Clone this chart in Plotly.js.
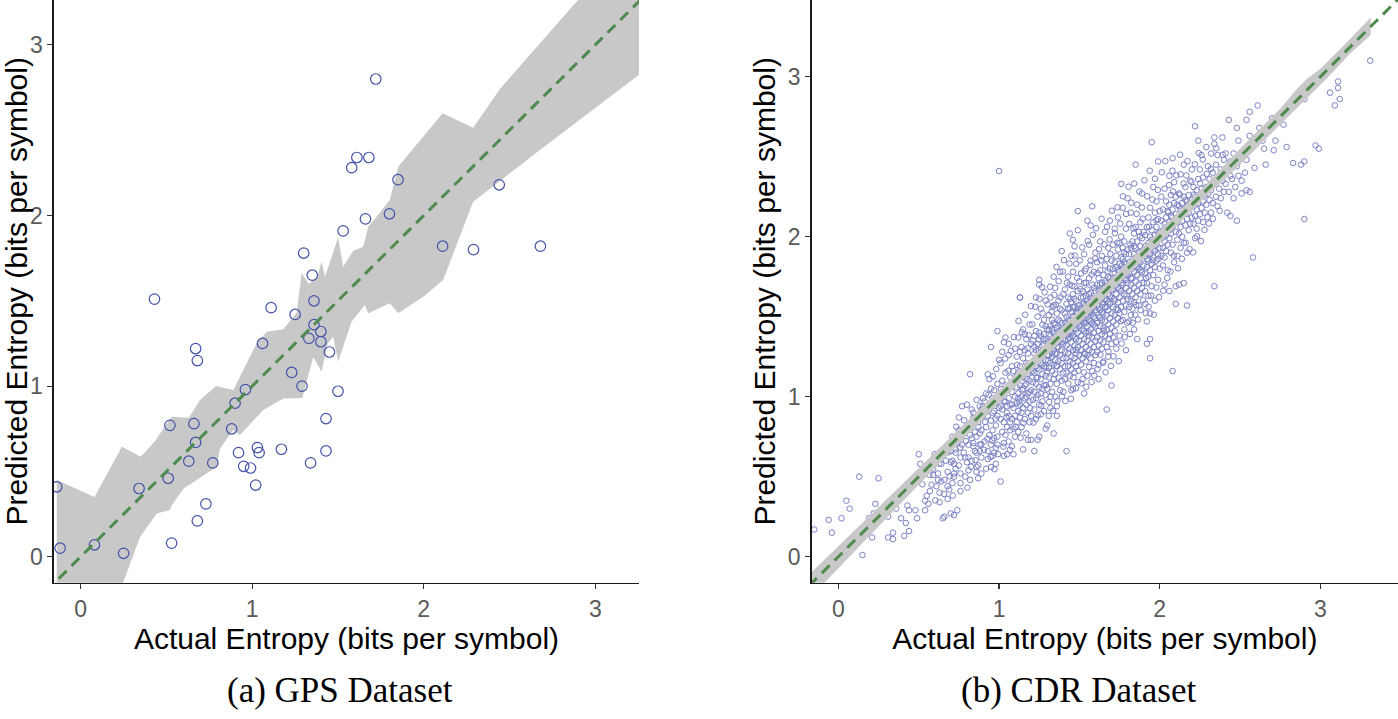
<!DOCTYPE html>
<html>
<head>
<meta charset="utf-8">
<script src="https://cdn.plot.ly/plotly-3.0.1.min.js"></script>
<style>
  html, body { margin: 0; padding: 0; background: #ffffff; }
  #chart { width: 1398px; height: 719px; }
</style>
</head>
<body>
<div id="chart"></div>
<script>
// ---------- Data ----------
const tickValues = [0, 1, 2, 3];
const tickLabels = ['0', '1', '2', '3'];
const xTitle = 'Actual Entropy (bits per symbol)';
const yTitle = 'Predicted Entropy (bits per symbol)';
const captions = ['(a) GPS Dataset', '(b) CDR Dataset'];
const identityLine = [-0.5, 3.8];

// GPS dataset: [actual, predicted]
const gpsPoints = [
  [0.43,1.51],[1.11,1.46],[1.25,1.42],[1.36,1.50],[1.36,1.36],[1.40,1.32],[1.33,1.28],[1.40,1.26],
  [1.45,1.20],[1.06,1.25],[0.67,1.22],[0.68,1.15],[1.23,1.08],[1.29,1.00],[1.50,0.97],[0.96,0.98],
  [0.90,0.90],[0.88,0.75],[0.52,0.77],[0.66,0.78],[0.67,0.67],[1.43,0.81],[0.92,0.61],[1.03,0.64],
  [1.04,0.61],[1.17,0.63],[1.43,0.62],[0.63,0.56],[0.77,0.55],[0.95,0.53],[0.99,0.52],[1.34,0.55],
  [0.51,0.46],[1.02,0.42],[-0.14,0.41],[0.34,0.40],[0.73,0.31],[0.68,0.21],[0.53,0.08],[-0.12,0.05],
  [0.08,0.07],[0.25,0.02],[1.72,2.80],[1.61,2.34],[1.68,2.34],[1.58,2.28],[1.85,2.21],[2.44,2.18],
  [1.80,2.01],[1.66,1.98],[1.53,1.91],[1.30,1.78],[2.11,1.82],[2.29,1.80],[2.68,1.82],[1.35,1.65]
];

// GPS uncertainty band: upper and lower edges
const gpsBandUpper = [
  [-0.14,0.45],[0.08,0.35],[0.24,0.645],[0.35,0.586],[0.43,0.674],[0.53,0.821],[0.63,0.815],[0.695,0.918],
  [0.79,1.00],[0.89,0.977],[1.026,1.251],[1.084,1.319],[1.181,1.333],[1.259,1.43],[1.288,1.661],[1.33,1.60],
  [1.38,1.64],[1.404,1.729],[1.424,1.641],[1.501,1.872],[1.530,1.700],[1.589,1.794],[1.647,1.817],
  [1.676,1.934],[1.725,1.993],[1.802,2.091],[1.851,2.286],[2.110,2.599],[2.288,2.515],[2.443,2.740],
  [2.890,3.253],[3.30,3.72]
];
const gpsBandLower = [
  [-0.14,-0.9],[0.20,-0.30],[0.249,-0.147],[0.346,0.115],[0.443,0.254],[0.52,0.274],[0.53,0.30],
  [0.60,0.40],[0.676,0.450],[0.793,0.528],[0.812,0.635],[0.889,0.743],[0.928,0.713],[1.064,0.860],
  [1.181,0.928],[1.292,0.93],[1.356,1.17],[1.404,1.084],[1.44,1.25],[1.472,1.29],[1.501,1.143],
  [1.579,1.377],[1.657,1.475],[1.676,1.427],[1.802,1.485],[1.851,1.427],[1.997,1.524],[2.113,1.622],
  [2.288,2.081],[2.677,2.384],[3.30,2.86]
];

// CDR uncertainty band
const cdrBandX     = [-0.17, 0.20, 0.50, 1.00, 1.50, 2.00, 2.30, 2.50, 2.60, 2.75, 2.85, 2.92, 3.00, 3.08, 3.18, 3.313];
const cdrBandUpper = [-0.10, 0.26, 0.55, 1.04, 1.54, 2.04, 2.34, 2.55, 2.65, 2.80, 2.92, 2.99, 3.05, 3.13, 3.23, 3.37];
const cdrBandLower = [-0.25, 0.14, 0.45, 0.96, 1.46, 1.96, 2.26, 2.45, 2.55, 2.70, 2.80, 2.87, 2.95, 3.03, 3.14, 3.26];

// CDR dataset: [actual, predicted]
const cdrPoints = [
  [-0.15,0.17],[-0.06,0.23],[-0.04,0.15],[0.02,0.24],[0.05,0.35],[0.07,0.30],[0.06,0.09],[0.10,0.09],[0.13,0.50],[0.15,0.01],
  [0.17,0.14],[0.19,0.24],[0.21,0.12],[0.23,0.33],[0.22,0.27],[0.25,0.49],[0.30,0.30],[0.31,0.25],[0.31,0.12],[0.34,0.11],
  [0.34,0.15],[0.36,0.30],[0.38,0.39],[0.39,0.24],[0.41,0.13],[0.42,0.21],[0.43,0.32],[0.44,0.29],[0.44,0.16],[0.48,0.29],
  [0.49,0.24],[0.50,0.64],[0.51,0.58],[0.54,0.29],[0.54,0.35],[0.55,0.38],[0.57,0.41],[0.59,0.51],[0.59,0.55],[0.60,0.64],
  [0.58,0.45],[0.56,0.33],
  [0.61,0.44],[0.62,0.48],[0.63,0.34],[0.63,0.40],[0.64,0.58],[0.65,0.63],[0.65,0.24],[0.66,0.48],[0.68,0.44],[0.68,0.53],
  [0.70,0.59],[0.70,0.66],[0.66,0.25],[0.68,0.36],[0.62,0.52],[0.69,0.42],[0.64,0.47],[0.67,0.60],
  [0.71,0.75],[0.70,0.27],[0.72,0.26],[0.74,0.29],[0.71,0.46],[0.72,0.50],[0.72,0.52],[0.71,0.60],[0.73,0.65],[0.73,0.67],
  [0.75,0.87],[0.75,0.79],[0.75,0.57],[0.76,0.52],[0.76,0.46],[0.76,0.41],[0.77,0.94],[0.80,0.95],[0.78,0.65],[0.79,0.62],
  [0.80,0.59],[0.73,0.55],[0.77,0.70],[0.79,0.50],[0.76,0.62],[0.72,0.58],[0.74,0.71],[0.78,0.78],
  [0.81,0.54],[0.82,0.48],[0.82,1.14],[0.82,0.83],[0.82,0.81],[0.83,0.74],[0.84,0.71],[0.84,0.69],[0.86,0.65],[0.86,0.53],
  [0.87,0.57],[0.87,0.49],[0.88,0.94],[0.81,0.62],[0.83,0.60],[0.85,0.78],[0.85,0.66],[0.86,0.75],[0.87,0.84],[0.88,0.70],
  [0.89,0.62],[0.89,0.79],[0.90,0.88],[0.86,0.56],[0.88,0.66],[0.89,0.52],[0.81,0.70],[0.82,0.76],[0.84,0.90],[0.86,0.98],
  [0.88,0.77],[0.83,0.92],[0.90,0.99],[0.90,0.94],[0.89,0.92],
  [0.99,1.41],[0.95,1.31],[0.93,1.14],[0.94,1.11],[0.98,0.58],[0.92,0.55],[0.95,0.56],[0.91,0.72],[0.92,0.81],[0.93,0.88],
  [0.93,0.66],[0.94,0.95],[0.94,0.76],[0.95,0.70],[0.95,0.85],[0.96,0.99],[0.96,0.63],[0.96,0.79],[0.97,0.91],[0.97,0.74],
  [0.97,1.04],[0.98,0.82],[0.98,0.68],[0.98,0.96],[0.99,1.08],[0.99,0.88],[0.99,0.75],[1.00,0.93],[1.00,1.23],[0.91,0.97],
  [0.92,1.02],[0.93,0.61],[0.95,1.05],[0.96,0.90],[0.97,0.65],[0.99,0.70],[1.00,2.41],
  [1.04,1.37],[1.03,1.34],[1.01,1.21],[1.01,0.47],[1.03,0.63],[1.05,0.64],[1.09,0.64],[1.01,0.86],[1.01,0.99],[1.02,0.78],
  [1.02,1.10],[1.02,0.92],[1.03,0.71],[1.03,1.02],[1.03,0.84],[1.04,0.97],[1.04,1.15],[1.04,0.76],[1.05,0.90],[1.05,1.06],
  [1.05,0.81],[1.06,0.99],[1.06,1.26],[1.06,0.72],[1.06,0.88],[1.07,1.12],[1.07,0.95],[1.07,0.79],[1.08,1.03],[1.08,0.86],
  [1.08,1.19],[1.08,0.69],[1.09,0.93],[1.09,1.08],[1.09,0.80],[1.10,1.00],[1.10,1.30],[1.10,0.88],[1.02,1.28],[1.04,1.07],
  [1.05,0.94],[1.07,0.84],[1.09,1.16],[1.10,0.75],[1.06,1.33],[1.01,0.94],[1.03,0.97],
  [1.15,0.67],[1.13,1.62],[1.18,0.73],[1.20,0.73],[1.11,0.96],[1.11,1.13],[1.11,0.84],[1.11,1.25],[1.12,1.02],[1.12,0.91],
  [1.12,1.37],[1.12,0.78],[1.13,1.07],[1.13,0.95],[1.13,1.19],[1.13,0.87],[1.14,1.31],[1.14,1.00],[1.14,1.12],[1.14,0.81],
  [1.15,1.24],[1.15,0.93],[1.15,1.05],[1.15,1.42],[1.16,0.99],[1.16,1.16],[1.16,0.86],[1.16,1.29],[1.17,1.08],[1.17,0.95],
  [1.17,1.21],[1.17,0.77],[1.17,1.36],[1.18,1.02],[1.18,1.14],[1.18,0.90],[1.18,1.27],[1.19,1.10],[1.19,0.97],[1.19,1.45],
  [1.19,1.19],[1.20,1.04],[1.20,0.88],[1.20,1.33],[1.11,1.06],[1.12,1.15],[1.13,1.28],[1.14,0.90],[1.15,1.12],[1.16,1.07],
  [1.17,1.00],[1.18,1.20],[1.19,0.84],[1.20,1.15],[1.16,1.39],[1.12,0.99],[1.19,1.03],[1.13,1.62],
  [1.22,0.66],[1.24,0.73],[1.25,0.75],[1.26,0.89],[1.23,1.62],[1.25,1.73],[1.25,1.70],[1.21,1.09],[1.21,1.22],[1.21,0.98],
  [1.21,1.35],[1.22,1.15],[1.22,1.03],[1.22,1.27],[1.22,0.92],[1.23,1.19],[1.23,1.08],[1.23,1.41],[1.23,0.99],[1.24,1.24],
  [1.24,1.12],[1.24,1.33],[1.24,1.01],[1.24,1.50],[1.25,1.17],[1.25,1.06],[1.25,1.29],[1.25,0.95],[1.26,1.21],[1.26,1.11],
  [1.26,1.38],[1.26,1.02],[1.26,1.55],[1.27,1.25],[1.27,1.14],[1.27,1.32],[1.27,0.97],[1.27,1.45],[1.28,1.19],[1.28,1.07],
  [1.28,1.28],[1.28,1.39],[1.28,0.91],[1.29,1.23],[1.29,1.13],[1.29,1.35],[1.29,1.01],[1.29,1.60],[1.30,1.26],[1.30,1.16],
  [1.30,1.42],[1.30,1.05],[1.21,1.16],[1.22,1.38],[1.23,1.29],[1.24,1.18],[1.25,1.40],[1.26,1.28],[1.27,1.20],[1.28,1.48],
  [1.29,1.18],[1.30,1.31],[1.23,0.86],[1.27,1.05],[1.29,1.44],[1.22,1.21],[1.25,1.24],[1.28,1.33],
  [1.31,0.88],[1.30,0.82],[1.29,0.80],[1.34,0.77],[1.36,0.94],[1.36,0.88],[1.34,1.75],[1.38,1.78],[1.39,1.91],[1.32,0.93],
  [1.32,1.00],[1.31,1.12],[1.31,1.26],[1.31,1.39],[1.31,1.51],[1.31,1.18],[1.32,1.30],[1.32,1.21],[1.32,1.44],[1.32,1.08],
  [1.32,1.62],[1.33,1.25],[1.33,1.35],[1.33,1.16],[1.33,1.48],[1.33,1.03],[1.34,1.29],[1.34,1.20],[1.34,1.40],[1.34,1.11],
  [1.34,1.57],[1.35,1.33],[1.35,1.23],[1.35,1.45],[1.35,1.14],[1.35,1.68],[1.35,1.00],[1.36,1.27],[1.36,1.37],[1.36,1.19],
  [1.36,1.52],[1.36,1.08],[1.37,1.31],[1.37,1.41],[1.37,1.22],[1.37,1.60],[1.37,1.12],[1.38,1.35],[1.38,1.26],[1.38,1.47],
  [1.38,1.17],[1.38,1.04],[1.39,1.29],[1.39,1.39],[1.39,1.21],[1.39,1.54],[1.39,1.10],[1.40,1.33],[1.40,1.43],[1.40,1.24],
  [1.40,1.64],[1.40,1.15],[1.31,1.34],[1.32,1.38],[1.33,1.42],[1.34,1.46],[1.35,1.38],[1.36,1.43],[1.37,1.48],[1.38,1.55],
  [1.39,1.46],[1.33,1.27],[1.35,1.27],[1.37,1.35],[1.39,1.34],[1.31,1.42],[1.36,1.31],
  [1.40,1.03],[1.42,0.66],[1.46,1.05],[1.44,2.02],[1.46,1.98],[1.47,1.94],[1.45,1.88],[1.49,2.16],[1.49,2.04],[1.41,1.28],
  [1.41,1.40],[1.41,1.19],[1.41,1.52],[1.41,1.11],[1.41,1.67],[1.42,1.32],[1.42,1.44],[1.42,1.24],[1.42,1.58],[1.42,1.15],
  [1.43,1.36],[1.43,1.48],[1.43,1.27],[1.43,1.62],[1.43,1.19],[1.43,1.75],[1.44,1.30],[1.44,1.41],[1.44,1.22],[1.44,1.55],
  [1.44,1.13],[1.44,1.70],[1.45,1.34],[1.45,1.46],[1.45,1.25],[1.45,1.59],[1.45,1.17],[1.45,1.04],[1.46,1.38],[1.46,1.50],
  [1.46,1.29],[1.46,1.64],[1.46,1.21],[1.46,1.78],[1.47,1.32],[1.47,1.43],[1.47,1.24],[1.47,1.56],[1.47,1.15],[1.47,1.69],
  [1.48,1.36],[1.48,1.47],[1.48,1.27],[1.48,1.60],[1.48,1.19],[1.48,1.83],[1.49,1.40],[1.49,1.52],[1.49,1.31],[1.49,1.66],
  [1.49,1.22],[1.49,1.09],[1.50,1.44],[1.50,1.35],[1.50,1.57],[1.50,1.26],[1.50,1.72],[1.41,1.35],[1.42,1.38],[1.43,1.42],
  [1.44,1.47],[1.45,1.40],[1.46,1.44],[1.47,1.50],[1.48,1.53],[1.49,1.46],[1.50,1.50],[1.42,1.50],[1.44,1.37],[1.46,1.56],
  [1.48,1.42],[1.43,1.55],[1.47,1.37],
  [1.53,1.02],[1.58,2.19],[1.55,2.10],[1.57,2.07],[1.51,1.38],[1.51,1.49],[1.51,1.29],[1.51,1.62],[1.51,1.20],[1.51,1.77],
  [1.52,1.42],[1.52,1.53],[1.52,1.33],[1.52,1.66],[1.52,1.24],[1.52,1.11],[1.53,1.46],[1.53,1.36],[1.53,1.58],[1.53,1.27],
  [1.53,1.71],[1.53,1.89],[1.54,1.40],[1.54,1.51],[1.54,1.31],[1.54,1.63],[1.54,1.22],[1.54,1.80],[1.55,1.44],[1.55,1.55],
  [1.55,1.35],[1.55,1.67],[1.55,1.26],[1.55,1.13],[1.56,1.48],[1.56,1.38],[1.56,1.59],[1.56,1.29],[1.56,1.74],[1.56,1.95],
  [1.57,1.42],[1.57,1.53],[1.57,1.33],[1.57,1.65],[1.57,1.24],[1.57,1.85],[1.58,1.46],[1.58,1.57],[1.58,1.37],[1.58,1.70],
  [1.58,1.28],[1.58,1.16],[1.59,1.50],[1.59,1.40],[1.59,1.61],[1.59,1.31],[1.59,1.78],[1.59,1.21],[1.60,1.54],[1.60,1.44],
  [1.60,1.66],[1.60,1.35],[1.60,1.90],[1.60,1.26],[1.51,1.45],[1.52,1.58],[1.53,1.51],[1.54,1.57],[1.55,1.50],[1.56,1.53],
  [1.57,1.59],[1.58,1.52],[1.59,1.56],[1.60,1.60],[1.52,1.47],[1.54,1.46],[1.56,1.64],[1.58,1.62],[1.53,1.41],[1.57,1.47],
  [1.59,1.45],[1.55,1.60],[1.51,1.55],[1.60,1.49],
  [1.62,1.11],[1.67,0.92],[1.61,1.46],[1.61,1.57],[1.61,1.37],[1.61,1.70],[1.61,1.28],[1.61,1.84],[1.62,1.50],[1.62,1.61],
  [1.62,1.41],[1.62,1.74],[1.62,1.32],[1.62,1.20],[1.63,1.54],[1.63,1.44],[1.63,1.65],[1.63,1.35],[1.63,1.79],[1.63,1.97],
  [1.64,1.48],[1.64,1.59],[1.64,1.39],[1.64,1.71],[1.64,1.30],[1.64,1.88],[1.65,1.52],[1.65,1.63],[1.65,1.43],[1.65,1.76],
  [1.65,1.34],[1.65,1.22],[1.66,1.56],[1.66,1.47],[1.66,1.67],[1.66,1.38],[1.66,1.82],[1.66,2.03],[1.67,1.60],[1.67,1.51],
  [1.67,1.71],[1.67,1.42],[1.67,1.86],[1.67,1.31],[1.68,1.64],[1.68,1.54],[1.68,1.75],[1.68,1.45],[1.68,1.93],[1.68,1.25],
  [1.69,1.58],[1.69,1.68],[1.69,1.49],[1.69,1.80],[1.69,1.39],[1.69,2.10],[1.70,1.62],[1.70,1.72],[1.70,1.52],[1.70,1.85],
  [1.70,1.43],[1.70,1.33],[1.61,1.62],[1.62,1.66],[1.63,1.60],[1.64,1.64],[1.65,1.68],[1.66,1.61],[1.67,1.66],[1.68,1.70],
  [1.69,1.63],[1.70,1.67],[1.62,1.55],[1.64,1.53],[1.66,1.72],[1.68,1.59],[1.63,1.70],[1.67,1.56],[1.65,1.58],[1.69,1.74],
  [1.70,1.07],[1.76,2.33],[1.79,1.29],[1.71,1.56],[1.71,1.67],[1.71,1.47],[1.71,1.80],[1.71,1.37],[1.71,1.95],[1.72,1.60],
  [1.72,1.71],[1.72,1.51],[1.72,1.84],[1.72,1.41],[1.72,2.05],[1.73,1.64],[1.73,1.75],[1.73,1.55],[1.73,1.88],[1.73,1.45],
  [1.73,1.30],[1.74,1.68],[1.74,1.79],[1.74,1.59],[1.74,1.92],[1.74,1.49],[1.74,2.12],[1.75,1.72],[1.75,1.83],[1.75,1.62],
  [1.75,1.96],[1.75,1.52],[1.75,1.38],[1.76,1.76],[1.76,1.66],[1.76,1.87],[1.76,1.56],[1.76,2.00],[1.77,1.70],[1.77,1.80],
  [1.77,1.60],[1.77,1.93],[1.77,1.48],[1.77,2.18],[1.78,1.74],[1.78,1.84],[1.78,1.64],[1.78,1.97],[1.78,1.53],[1.78,1.42],
  [1.79,1.77],[1.79,1.68],[1.79,1.89],[1.79,1.57],[1.79,2.05],[1.80,1.81],[1.80,1.71],[1.80,1.92],[1.80,1.61],[1.80,2.24],
  [1.71,1.74],[1.72,1.77],[1.73,1.70],[1.74,1.74],[1.75,1.78],[1.76,1.71],[1.77,1.75],[1.78,1.79],[1.79,1.83],[1.80,1.76],
  [1.73,1.81],[1.75,1.67],[1.77,1.86],[1.79,1.73],
  [1.84,1.42],[1.86,1.36],[1.85,2.45],[1.81,1.66],[1.81,1.77],[1.81,1.56],[1.81,1.89],[1.81,1.47],[1.81,2.08],[1.82,1.70],
  [1.82,1.81],[1.82,1.60],[1.82,1.93],[1.82,1.51],[1.82,2.15],[1.83,1.74],[1.83,1.85],[1.83,1.64],[1.83,1.97],[1.83,1.55],
  [1.84,1.78],[1.84,1.89],[1.84,1.68],[1.84,2.02],[1.84,1.59],[1.85,1.82],[1.85,1.93],[1.85,1.72],[1.85,2.06],[1.85,1.62],
  [1.86,1.86],[1.86,1.76],[1.86,1.97],[1.86,1.66],[1.86,2.20],[1.87,1.80],[1.87,1.90],[1.87,1.70],[1.87,2.03],[1.87,1.57],
  [1.88,1.84],[1.88,1.94],[1.88,1.74],[1.88,2.09],[1.88,1.64],[1.89,1.88],[1.89,1.78],[1.89,1.99],[1.89,1.68],[1.89,2.27],
  [1.90,1.92],[1.90,1.82],[1.90,2.03],[1.90,1.71],[1.81,1.84],[1.83,1.80],[1.85,1.87],[1.87,1.85],[1.89,1.91],[1.82,1.74],
  [1.84,1.94],[1.86,1.81],[1.88,1.79],
  [1.92,1.33],[1.94,1.36],[1.92,1.47],[1.94,1.52],[1.94,1.24],[1.95,2.59],[1.99,2.47],[1.91,1.77],[1.91,1.88],[1.91,1.66],
  [1.91,2.01],[1.91,1.58],[1.92,1.81],[1.92,1.92],[1.92,1.71],[1.92,2.06],[1.93,1.85],[1.93,1.96],[1.93,1.75],[1.93,2.12],
  [1.93,1.63],[1.94,1.89],[1.94,2.00],[1.94,1.79],[1.94,2.18],[1.95,1.93],[1.95,1.83],[1.95,2.04],[1.95,1.69],[1.96,1.97],
  [1.96,1.87],[1.96,2.09],[1.96,1.76],[1.96,2.31],[1.97,1.91],[1.97,2.01],[1.97,1.81],[1.97,2.15],[1.97,1.60],[1.98,1.95],
  [1.98,2.06],[1.98,1.85],[1.98,2.22],[1.99,1.99],[1.99,1.89],[1.99,2.11],[1.99,1.73],[2.00,2.03],[2.00,1.93],[2.00,2.16],
  [2.00,1.80],[1.91,1.94],[1.93,1.90],[1.95,1.98],[1.97,1.96],[1.99,2.02],[1.92,1.86],[1.96,1.92],
  [2.03,1.70],[2.06,1.66],[2.10,1.69],[2.08,1.16],[2.08,2.49],[2.10,1.58],[2.01,1.88],[2.01,1.99],[2.01,2.10],[2.01,2.25],
  [2.02,1.93],[2.02,2.04],[2.02,1.82],[2.02,2.17],[2.03,1.97],[2.03,2.08],[2.03,1.87],[2.03,2.30],[2.04,2.01],[2.04,2.12],
  [2.04,1.91],[2.04,2.22],[2.05,2.05],[2.05,1.95],[2.05,2.16],[2.05,1.79],[2.06,2.09],[2.06,1.99],[2.06,2.20],[2.06,2.38],
  [2.07,2.13],[2.07,2.02],[2.07,1.90],[2.07,2.26],[2.08,2.06],[2.08,2.17],[2.08,1.95],[2.09,2.10],[2.09,2.21],[2.09,1.84],
  [2.09,2.34],[2.10,2.14],[2.10,2.03],[2.10,2.25],[2.02,2.00],[2.04,2.06],[2.06,2.04],[2.08,2.12],
  [2.12,1.70],[2.15,1.71],[2.17,1.57],[2.11,1.98],[2.11,2.09],[2.11,2.20],[2.11,1.88],[2.12,2.13],[2.12,2.02],[2.12,2.27],
  [2.13,2.06],[2.13,2.17],[2.13,1.93],[2.13,2.39],[2.14,2.10],[2.14,2.21],[2.14,2.00],[2.15,2.14],[2.15,2.25],[2.15,1.96],
  [2.15,2.45],[2.16,2.18],[2.16,2.07],[2.16,2.31],[2.17,2.22],[2.17,2.11],[2.17,1.90],[2.18,2.15],[2.18,2.26],[2.18,2.04],
  [2.19,2.19],[2.19,2.35],[2.19,2.08],[2.20,2.23],[2.20,2.12],[2.20,2.42],[2.12,2.19],[2.14,2.15],[2.16,2.23],[2.18,2.20],
  [2.22,2.69],[2.24,2.60],[2.26,2.51],[2.29,2.56],[2.21,2.08],[2.21,2.19],[2.21,2.31],[2.22,2.13],[2.22,2.25],[2.22,1.99],
  [2.23,2.17],[2.23,2.29],[2.23,2.05],[2.24,2.21],[2.24,2.36],[2.24,2.10],[2.25,2.25],[2.25,2.14],[2.25,2.42],[2.26,2.18],
  [2.26,2.30],[2.27,2.22],[2.27,2.09],[2.27,2.37],[2.28,2.26],[2.28,2.15],[2.29,2.31],[2.29,2.20],[2.30,2.27],[2.30,2.44],
  [2.32,2.52],[2.36,2.51],[2.34,2.58],[2.34,2.62],[2.39,2.62],[2.34,1.69],[2.41,2.52],[2.31,2.23],[2.31,2.36],[2.32,2.15],
  [2.32,2.29],[2.33,2.40],[2.33,2.21],[2.34,2.33],[2.35,2.25],[2.35,2.45],[2.36,2.37],[2.36,2.19],[2.37,2.30],[2.38,2.42],
  [2.38,2.24],[2.39,2.35],[2.40,2.48],[2.40,2.28],
  [2.43,2.73],[2.48,2.68],[2.49,2.60],[2.44,2.38],[2.46,2.24],[2.48,2.10],[2.42,2.15],[2.44,2.13],[2.41,2.33],[2.42,2.41],
  [2.43,2.28],[2.44,2.47],[2.45,2.36],[2.46,2.52],[2.47,2.31],[2.48,2.44],[2.49,2.38],[2.50,2.50],
  [2.51,2.27],[2.54,2.29],[2.56,2.28],[2.54,2.48],[2.51,2.35],[2.53,2.40],[2.59,2.43],[2.56,2.63],[2.56,2.78],[2.54,2.73],
  [2.61,2.82],[2.62,2.68],[2.64,2.60],[2.65,2.55],[2.66,2.45],[2.70,2.74],[2.74,2.75],[2.77,2.70],[2.72,2.60],[2.71,2.54],
  [2.79,2.56],[2.83,2.46],[2.88,2.45],[2.90,2.47],[2.90,2.11],[2.58,1.87],[2.97,2.57],[2.99,2.55],[2.90,2.86],[2.98,3.00],
  [3.11,2.97],[3.11,2.93],[3.06,2.90],[3.12,2.86],[3.09,2.82],[3.31,3.10],
  [0.853,0.603],[0.872,0.811],[0.913,0.842],[0.928,0.737],[0.947,0.623],[0.962,1.127],[0.978,0.863],[0.994,0.641],[0.907,0.668],[0.936,1.012],
  [0.958,0.726],[0.983,1.172],[0.921,0.904],[0.889,0.703],[0.972,0.547],
  [1.013,1.047],[1.027,0.688],[1.038,1.238],[1.046,0.872],[1.058,1.162],[1.067,0.667],[1.074,1.286],[1.083,0.952],[1.092,1.372],[1.104,0.812],
  [1.113,1.198],[1.121,1.473],[1.134,0.743],[1.142,1.402],[1.151,0.836],[1.163,1.512],[1.172,1.113],[1.184,1.384],[1.193,0.928],[1.198,1.566],
  [1.108,1.098],[1.146,1.041],[1.177,1.302],[1.057,1.042],[1.126,0.968],
  [1.207,1.452],[1.214,0.838],[1.226,1.562],[1.233,1.117],[1.241,0.882],[1.252,1.611],[1.263,0.944],[1.271,1.521],[1.284,1.652],[1.292,1.072],
  [1.303,1.577],[1.312,0.967],[1.318,1.687],[1.327,1.531],[1.336,0.912],[1.344,1.636],[1.352,1.574],[1.363,0.972],[1.371,1.722],[1.383,1.621],
  [1.391,1.002],[1.397,1.782],[1.219,1.312],[1.247,1.357],[1.276,1.362],[1.305,1.222],[1.333,1.561],[1.358,1.193],[1.386,1.418],[1.268,1.684],
  [1.358,1.811],
  [1.404,1.853],[1.413,0.973],[1.422,1.712],[1.431,1.082],[1.438,1.832],[1.447,0.987],[1.456,1.692],[1.463,1.121],[1.471,1.882],[1.479,1.052],
  [1.486,1.743],[1.494,1.162],[1.503,1.852],[1.511,1.083],[1.518,1.933],[1.527,1.152],[1.534,1.786],[1.543,1.062],[1.552,1.972],[1.561,1.186],
  [1.568,1.823],[1.576,1.092],[1.585,2.012],[1.593,1.132],[1.598,1.863],[1.415,1.462],[1.433,1.392],[1.452,1.532],[1.468,1.612],[1.487,1.552],
  [1.506,1.672],[1.523,1.622],[1.541,1.712],[1.558,1.402],[1.577,1.763],[1.592,1.682],[1.444,1.612],[1.482,1.292],[1.536,1.266],[1.574,1.542],
  [1.604,2.052],[1.613,1.172],[1.622,1.922],[1.631,1.262],[1.638,2.112],[1.647,1.212],[1.656,1.952],[1.663,1.152],[1.672,2.062],[1.681,1.282],
  [1.688,1.983],[1.696,1.192],[1.703,2.162],[1.712,1.252],[1.721,2.022],[1.728,1.342],[1.737,2.183],[1.745,1.222],[1.754,2.082],[1.763,1.332],
  [1.771,2.252],[1.782,1.372],[1.791,2.142],[1.798,1.462],[1.614,1.772],[1.633,1.852],[1.652,1.412],[1.676,1.782],[1.693,1.892],[1.717,1.612],
  [1.736,1.962],[1.759,1.472],[1.778,1.902],[1.794,1.632],[1.627,1.492],[1.683,1.362],[1.741,1.542],[1.766,1.822],
  [1.806,2.312],[1.815,1.392],[1.823,2.212],[1.832,1.462],[1.841,2.332],[1.848,1.512],[1.856,2.142],[1.864,1.482],[1.873,2.282],[1.881,1.542],
  [1.889,2.182],[1.897,1.602],[1.905,2.352],[1.913,1.522],[1.922,2.252],[1.931,1.562],[1.938,2.412],[1.946,1.632],[1.954,2.232],[1.963,1.512],
  [1.971,2.362],[1.979,1.682],[1.988,2.292],[1.996,1.622],[1.818,1.952],[1.836,2.052],[1.853,1.572],[1.877,2.002],[1.894,2.112],[1.916,1.742],
  [1.934,2.062],[1.957,1.852],[1.978,2.102],[1.992,1.862],
  [2.013,2.402],[2.022,1.662],[2.035,2.472],[2.047,1.742],[2.058,2.322],[2.067,1.782],[2.079,2.412],[2.088,1.882],[2.103,2.382],[2.114,1.802],
  [2.127,2.512],[2.138,1.862],[2.149,2.332],[2.162,1.962],[2.173,2.472],[2.186,1.922],[2.197,2.342],[2.208,1.902],[2.219,2.452],[2.232,2.002],
  [2.243,2.522],[2.257,1.972],[2.268,2.482],[2.279,2.042],[2.292,2.392],[2.306,2.082],[2.318,2.422],[2.331,2.112],[2.352,2.552],[2.373,2.162],
  [2.392,2.512],[2.052,2.152],[2.083,2.282],[2.124,2.262],[2.166,2.382],[2.211,2.262],[2.252,2.332],[2.297,2.122],
  [0.523,0.452],[0.567,0.512],[0.603,0.352],[0.627,0.582],[0.658,0.392],[0.683,0.652],[0.712,0.382],[0.734,0.812],[0.757,0.682],[0.783,0.852],
  [0.803,0.432],[0.826,0.562],[0.842,0.872],[0.794,0.722],[0.693,0.502]
];

// ---------- Helpers ----------
const col = (arr, i) => arr.map(p => p[i]);

const gpsBandX = col(gpsBandUpper, 0).concat(col(gpsBandLower, 0).slice().reverse());
const gpsBandY = col(gpsBandUpper, 1).concat(col(gpsBandLower, 1).slice().reverse());
const cdrPolyX = cdrBandX.concat(cdrBandX.slice().reverse());
const cdrPolyY = cdrBandUpper.concat(cdrBandLower.slice().reverse());

const bandColor = '#C8C8C8';
const lineColor = '#4F8A4F';
const traces = [
  { // GPS band
    type: 'scatter', mode: 'lines', x: gpsBandX, y: gpsBandY, xaxis: 'x', yaxis: 'y',
    fill: 'toself', fillcolor: bandColor, line: { width: 0, color: bandColor }, hoverinfo: 'skip'
  },
  { // GPS points
    type: 'scatter', mode: 'markers', x: col(gpsPoints, 0), y: col(gpsPoints, 1), xaxis: 'x', yaxis: 'y',
    marker: { symbol: 'circle', size: 10.5, color: 'rgba(0,0,0,0)', line: { color: '#4152A8', width: 1.2 } },
    cliponaxis: true
  },
  { // GPS identity line
    type: 'scatter', mode: 'lines', x: identityLine, y: identityLine, xaxis: 'x', yaxis: 'y',
    line: { color: lineColor, width: 3, dash: '11px,7px' }
  },
  { // CDR points
    type: 'scatter', mode: 'markers', x: col(cdrPoints, 0), y: col(cdrPoints, 1), xaxis: 'x2', yaxis: 'y2',
    marker: { symbol: 'circle', size: 5.6, color: 'rgba(0,0,0,0)', line: { color: '#7A82C4', width: 1 } },
    cliponaxis: true
  },
  { // CDR band
    type: 'scatter', mode: 'lines', x: cdrPolyX, y: cdrPolyY, xaxis: 'x2', yaxis: 'y2',
    fill: 'toself', fillcolor: bandColor, line: { width: 0, color: bandColor }, hoverinfo: 'skip'
  },
  { // CDR identity line
    type: 'scatter', mode: 'lines', x: identityLine, y: identityLine, xaxis: 'x2', yaxis: 'y2',
    line: { color: lineColor, width: 3, dash: '11px,7px' }
  }
];

const tickFont = { family: 'Liberation Sans, Arial, sans-serif', size: 23, color: '#5a5a5a' };
const titleFont = { family: 'Liberation Sans, Arial, sans-serif', size: 30, color: '#000000' };
function xAxis(domain, range, anchor) {
  return {
    domain: domain, range: range, anchor: anchor, showgrid: false, zeroline: false,
    showline: true, linecolor: '#1a1a1a', linewidth: 1.6, mirror: false,
    ticks: 'outside', ticklen: 5, tickwidth: 1.2, tickcolor: '#333333',
    tickmode: 'array', tickvals: tickValues, ticktext: tickLabels, tickfont: tickFont,
    title: { text: xTitle, font: titleFont, standoff: 1 }, automargin: false, fixedrange: true
  };
}
function yAxis(domain, range, anchor) {
  return {
    domain: domain, range: range, anchor: anchor, showgrid: false, zeroline: false,
    showline: true, linecolor: '#1a1a1a', linewidth: 1.6,
    ticks: 'outside', ticklen: 5, tickwidth: 1.2, tickcolor: '#333333',
    tickmode: 'array', tickvals: tickValues, ticktext: tickLabels, tickfont: tickFont,
    title: { text: yTitle, font: titleFont, standoff: 3 }, automargin: false, fixedrange: true
  };
}

const layout = {
  width: 1398, height: 719,
  margin: { l: 0, r: 0, t: 0, b: 0, pad: 0 },
  paper_bgcolor: '#ffffff', plot_bgcolor: '#ffffff',
  showlegend: false,
  xaxis: xAxis([0.0386, 0.4571], [-0.156, 3.255], 'y'),
  yaxis: yAxis([0.1896, 1], [-0.152, 3.263], 'x'),
  xaxis2: xAxis([0.5806, 1], [-0.166, 3.483], 'y2'),
  yaxis2: yAxis([0.1896, 1], [-0.1625, 3.479], 'x2'),
  annotations: [
    { text: captions[0], xref: 'paper', yref: 'paper', x: 0.2432, y: 0.040, xanchor: 'center', yanchor: 'middle',
      showarrow: false, font: { family: 'Liberation Serif, Times New Roman, serif', size: 35, color: '#000' } },
    { text: captions[1], xref: 'paper', yref: 'paper', x: 0.7715, y: 0.040, xanchor: 'center', yanchor: 'middle',
      showarrow: false, font: { family: 'Liberation Serif, Times New Roman, serif', size: 35, color: '#000' } }
  ]
};

Plotly.newPlot('chart', traces, layout, { staticPlot: true, displayModeBar: false });
</script>
</body>
</html>
